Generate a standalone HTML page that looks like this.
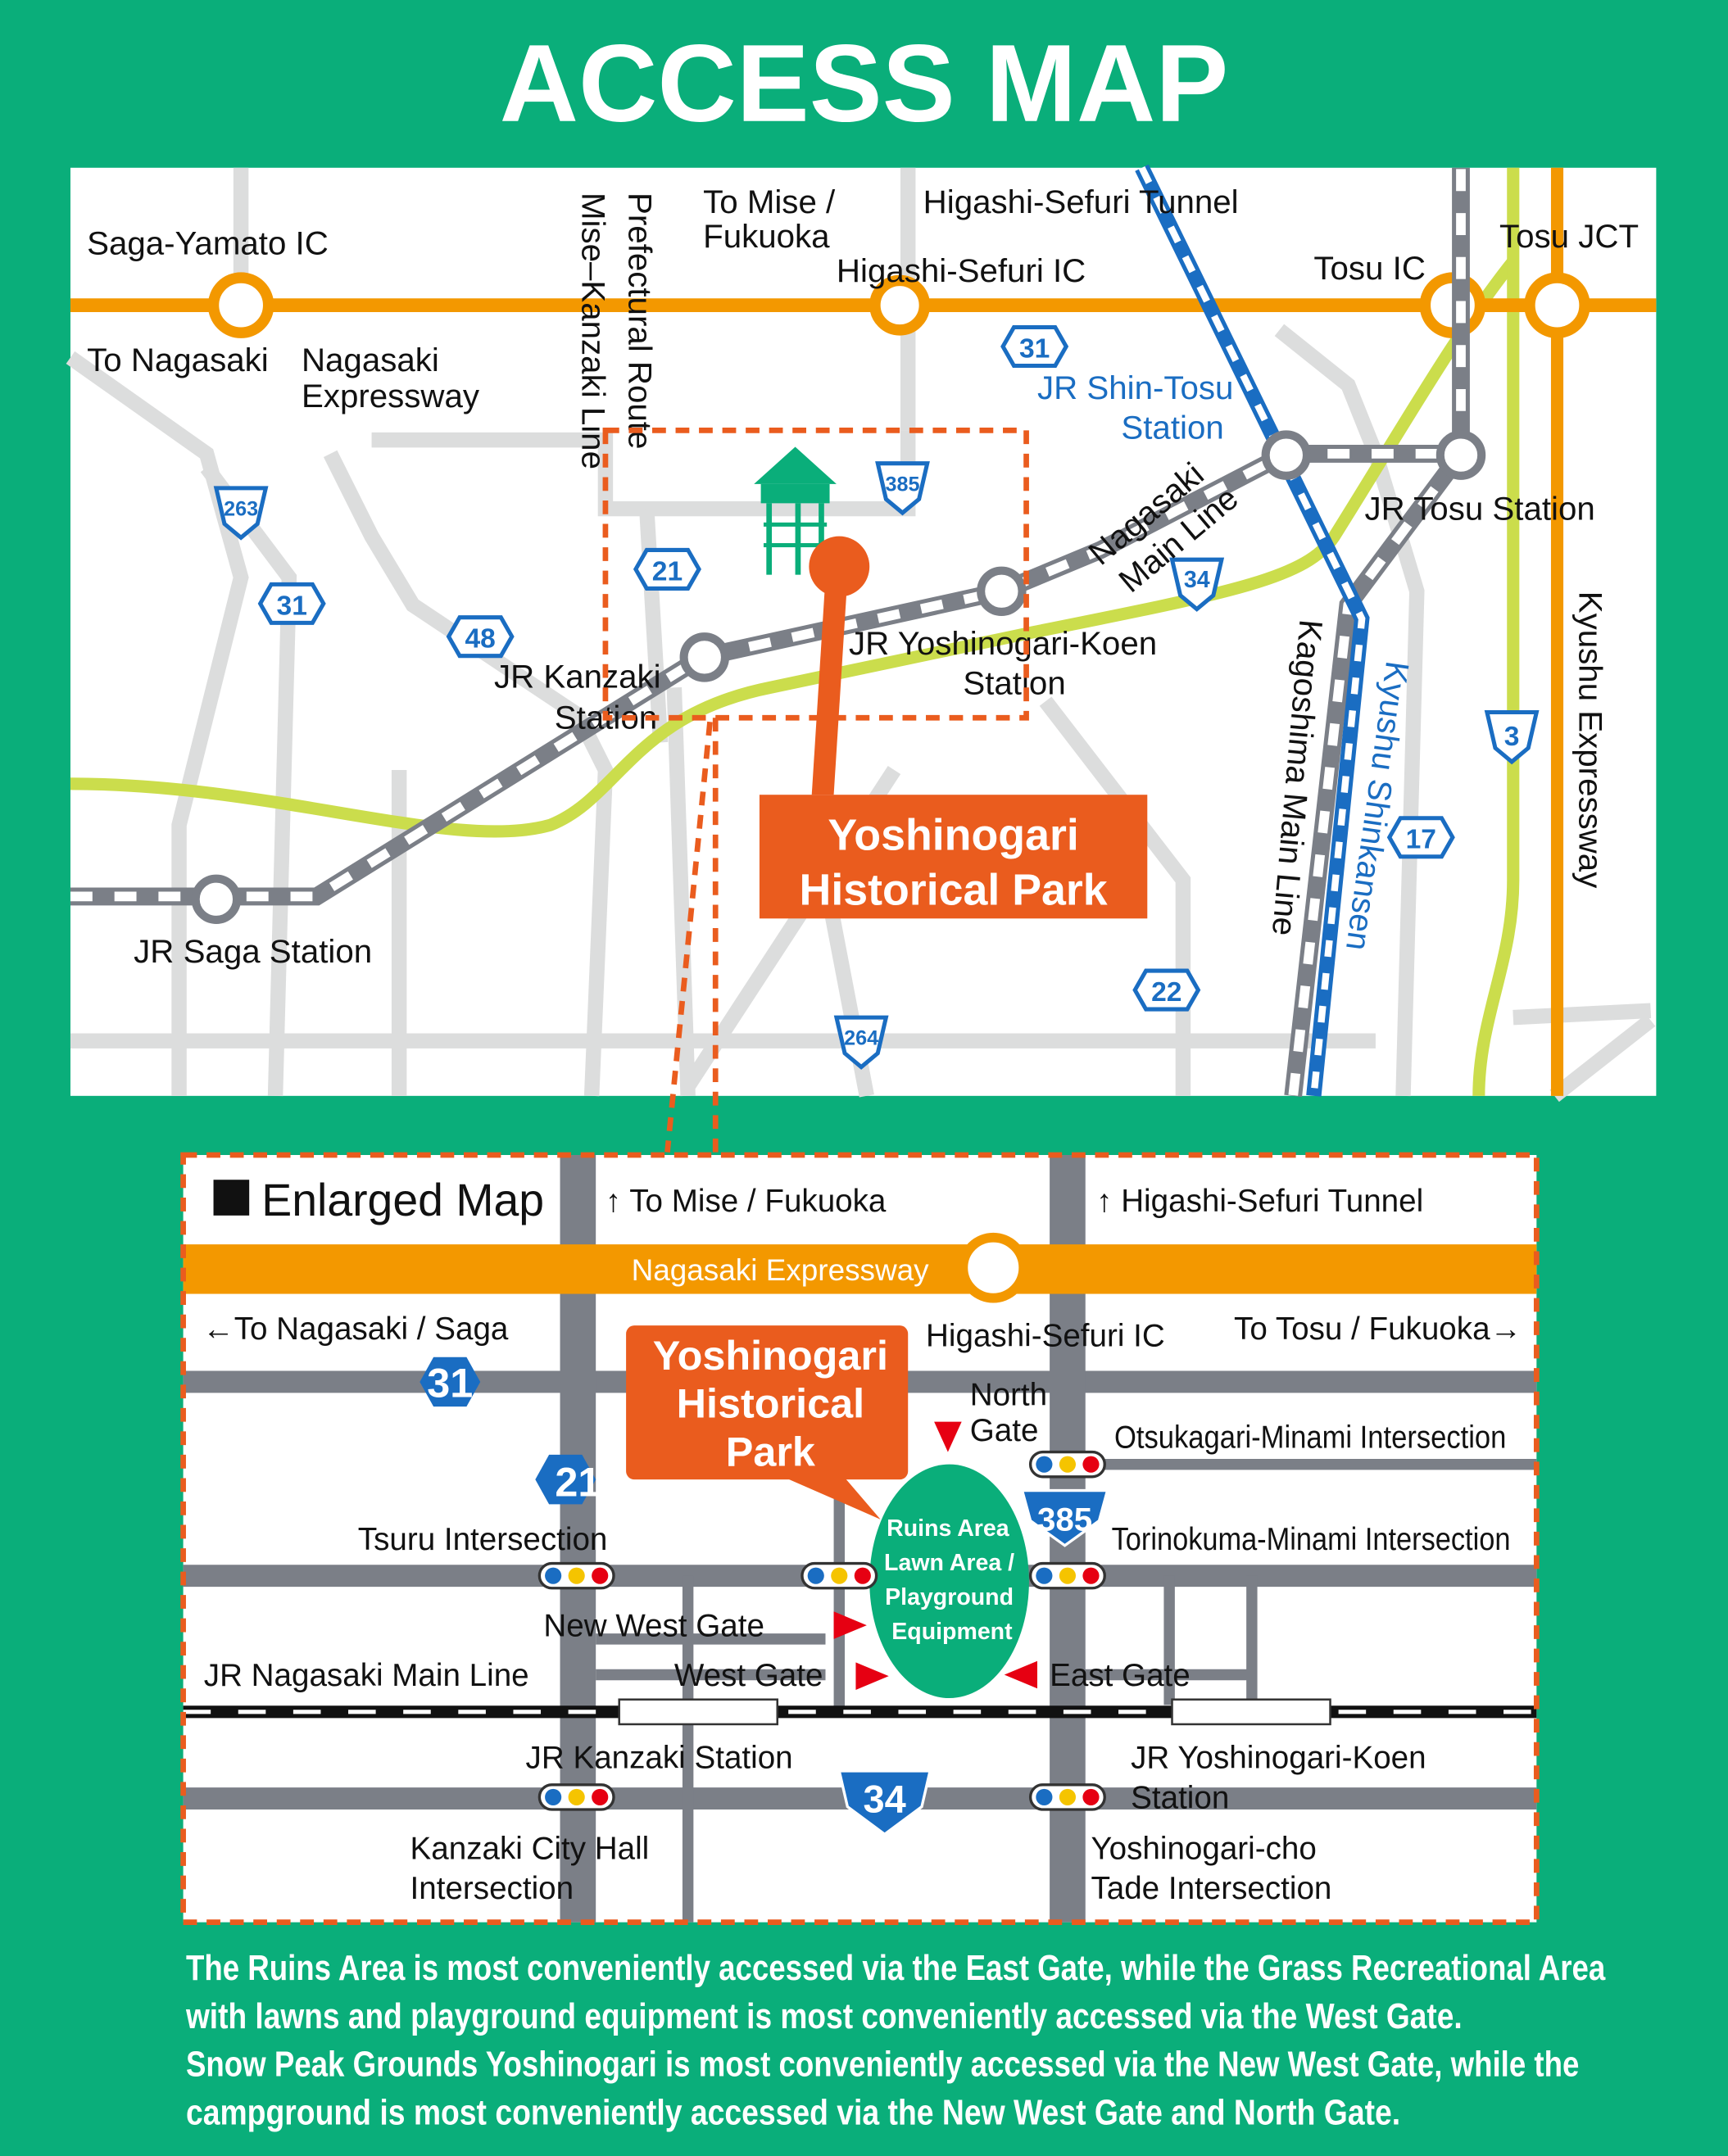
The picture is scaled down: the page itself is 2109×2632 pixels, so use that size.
<!DOCTYPE html>
<html><head><meta charset="utf-8"><style>
html,body{margin:0;padding:0;background:#0aae7a;}
svg{display:block;}
text{font-family:"Liberation Sans",sans-serif;}
</style></head><body>
<svg width="2109" height="2632" viewBox="0 0 1256 1568" xmlns="http://www.w3.org/2000/svg">
<rect width="1256" height="1568" fill="#0aae7a"/>
<text x="628" y="88" font-size="80" font-weight="bold" fill="#fff" text-anchor="middle" textLength="530" lengthAdjust="spacingAndGlyphs">ACCESS MAP</text>

<!-- upper map -->
<rect x="51" y="122" width="1153" height="675" fill="#fff"/>
<g stroke="#dcdddd" stroke-width="11" fill="none">
<path d="M175 122V240"/><path d="M51 260L150 330L175 420L130 600L130 797"/>
<path d="M240 330L270 390L300 440L420 520L440 560L430 797"/>
<path d="M270 320H440V370H660V313"/><path d="M150 340L210 420L200 797"/>
<path d="M490 500L500 797"/><path d="M500 790L650 560"/>
<path d="M660 122V313"/><path d="M51 757H1000"/>
<path d="M470 370L480 540"/>
<path d="M760 510L860 640L860 797"/>
<path d="M930 240L980 280L1000 330L1030 430L1020 797"/>
<path d="M1100 740L1200 735"/><path d="M1130 797L1200 742"/>
<path d="M290 560L290 797"/>
<path d="M600 640L630 797"/>
</g>
<!-- green lines -->
<g stroke="#cbdd4c" stroke-width="9" fill="none">
<path d="M51 570C200 570 330 620 400 600C450 580 460 520 560 500L750 460C900 430 950 420 970 390C1020 310 1060 240 1100 190"/>
<path d="M1100 122V640C1100 700 1075 740 1075 797"/>
</g>
<!-- orange expressway -->
<path d="M51 222H1204" stroke="#f39800" stroke-width="10"/>
<path d="M1132 122V797" stroke="#f39800" stroke-width="9"/>
<g fill="#fff" stroke="#f39800" stroke-width="8">
<circle cx="175" cy="222" r="20"/><circle cx="654" cy="222" r="18"/><circle cx="1056" cy="222" r="20"/><circle cx="1132" cy="222" r="20"/>
</g>
<!-- rail -->
<g fill="none">
<path d="M51 652H230L330 590L510 478L728 430L800 400L935 330H1062V122M1062 330L980 440L940 797" stroke="#7b7f87" stroke-width="13"/>
<path d="M51 652H230L330 590L510 478L728 430L800 400L935 330H1062V122M1062 330L980 440L940 797" stroke="#fff" stroke-width="7" stroke-dasharray="16 16"/>
<path d="M830 122L990 450L955 797" stroke="#1a6dc2" stroke-width="11"/>
<path d="M830 122L990 450L955 797" stroke="#fff" stroke-width="5" stroke-dasharray="12 12"/>
</g>
<g fill="#fff" stroke="#7b7f87" stroke-width="6">
<circle cx="157" cy="654" r="15"/><circle cx="512" cy="478" r="15"/><circle cx="728" cy="430" r="15"/><circle cx="935" cy="331" r="15"/><circle cx="1062" cy="331" r="15"/>
</g>
<!-- route shields -->
<g font-size="20" font-weight="bold" fill="#1a6dc2" text-anchor="middle" stroke="none">
<g fill="#fff" stroke="#1a6dc2" stroke-width="3">
<path d="M737 238h30l8 14l-8 14h-30l-8-14z"/><path d="M470 400h30l8 14l-8 14h-30l-8-14z"/><path d="M197 425h30l8 14l-8 14h-30l-8-14z"/><path d="M334 449h30l8 14l-8 14h-30l-8-14z"/><path d="M1018 595h30l8 14l-8 14h-30l-8-14z"/><path d="M833 706h30l8 14l-8 14h-30l-8-14z"/>
<path d="M157 355h36l-6 26l-12 10l-12-10z"/><path d="M638 337h36l-6 26l-12 10l-12-10z"/><path d="M852 407h36l-6 26l-12 10l-12-10z"/><path d="M608 740h36l-6 26l-12 10l-12-10z"/><path d="M1081 518h36l-6 26l-12 10l-12-10z"/>
</g>
<text x="752" y="260">31</text><text x="485" y="422">21</text><text x="212" y="447">31</text><text x="349" y="471">48</text><text x="1033" y="617">17</text><text x="848" y="728">22</text>
<text x="175" y="375" font-size="15">263</text><text x="656" y="357" font-size="15">385</text><text x="870" y="427" font-size="17">34</text><text x="626" y="760" font-size="15">264</text><text x="1099" y="542">3</text>
</g>
<!-- labels upper -->
<g font-size="24" fill="#111">
<text x="63" y="185">Saga-Yamato IC</text>
<text x="63" y="270">To Nagasaki</text>
<text x="219" y="270">Nagasaki</text><text x="219" y="296">Expressway</text>
<text x="511" y="155">To Mise /</text><text x="511" y="180">Fukuoka</text>
<text x="671" y="155">Higashi-Sefuri Tunnel</text>
<text x="608" y="205">Higashi-Sefuri IC</text>
<text x="955" y="203">Tosu IC</text><text x="1090" y="180">Tosu JCT</text>
<text x="992" y="378">JR Tosu Station</text>
<text x="359" y="500">JR Kanzaki</text><text x="403" y="530">Station</text>
<text x="617" y="476">JR Yoshinogari-Koen</text><text x="700" y="505">Station</text>
<text x="97" y="700">JR Saga Station</text>
<text x="754" y="290" fill="#1a6dc2">JR Shin-Tosu</text><text x="815" y="319" fill="#1a6dc2">Station</text>
<text transform="translate(457,140) rotate(90)">Prefectural Route</text>
<text transform="translate(423,140) rotate(90)">Mise–Kanzaki Line</text>
<text transform="translate(1148,430) rotate(90)">Kyushu Expressway</text>
<text transform="translate(1008,480) rotate(98)" fill="#1a6dc2">Kyushu Shinkansen</text>
<text transform="translate(945,450) rotate(95)">Kagoshima Main Line</text>
<text transform="translate(800,412) rotate(-40)">Nagasaki</text>
<text transform="translate(822,432) rotate(-40)">Main Line</text>
</g>
<!-- dashed focus rect -->
<g fill="none" stroke="#ea5c1e" stroke-width="4" stroke-dasharray="10 7">
<rect x="440" y="313" width="306" height="209"/>
<path d="M516 525L485 838"/><path d="M520 522V838"/>
</g>
<!-- tower -->
<g fill="#0aae7a">
<path d="M548 352L578 325L608 352z"/><rect x="553" y="352" width="50" height="14"/>
<rect x="557" y="366" width="4" height="52"/><rect x="578" y="366" width="4" height="52"/><rect x="595" y="366" width="4" height="52"/>
<rect x="555" y="380" width="46" height="3"/><rect x="555" y="395" width="46" height="3"/>
</g>
<path d="M600 420L616 420L606 578L590 578z" fill="#ea5c1e"/>
<circle cx="610" cy="412" r="22" fill="#ea5c1e"/>
<rect x="552" y="578" width="282" height="90" fill="#ea5c1e"/>
<text x="693" y="618" font-size="32" font-weight="bold" fill="#fff" text-anchor="middle">Yoshinogari</text>
<text x="693" y="658" font-size="32" font-weight="bold" fill="#fff" text-anchor="middle">Historical Park</text>

<!-- lower map -->
<rect x="133" y="840" width="984" height="558" fill="#fff"/>
<g stroke="#7b7f87" fill="none">
<path d="M133 1005H1117M133 1146H1117M133 1308H1117" stroke-width="16"/>
<path d="M420 840V1398M776 840V1398" stroke-width="26"/>
<path d="M610 1005V1146M500 1146V1398M790 1065H1117M433 1218H600M433 1192H600M850 1146V1240M910 1146V1240M776 1218H910" stroke-width="8"/>
<path d="M610 1146V1245" stroke-width="8"/>
</g>
<rect x="133" y="905" width="984" height="36" fill="#f39800"/>
<circle cx="722" cy="922" r="22" fill="#fff" stroke="#f39800" stroke-width="7"/>
<text x="567" y="931" font-size="22" fill="#fff" text-anchor="middle">Nagasaki Expressway</text>
<path d="M133 1245H1117" stroke="#111" stroke-width="9"/>
<path d="M133 1245H1117" stroke="#fff" stroke-width="3" stroke-dasharray="20 20"/>
<rect x="450" y="1236" width="115" height="18" fill="#fff" stroke="#333" stroke-width="1.5"/>
<rect x="852" y="1236" width="115" height="18" fill="#fff" stroke="#333" stroke-width="1.5"/>
<rect x="133" y="840" width="984" height="558" fill="none" stroke="#ea5c1e" stroke-width="4" stroke-dasharray="10 7"/>
<!-- park ellipse -->
<ellipse cx="690" cy="1150" rx="58" ry="85" fill="#0aae7a"/>
<g font-size="17" font-weight="bold" fill="#fff" text-anchor="middle">
<text x="689" y="1117">Ruins Area</text><text x="690" y="1142">Lawn Area /</text><text x="690" y="1167">Playground</text><text x="692" y="1192">Equipment</text>
</g>
<!-- callout -->
<path d="M560 1070L640 1105L610 1070z" fill="#ea5c1e"/>
<rect x="455" y="964" width="205" height="112" rx="6" fill="#ea5c1e"/>
<g font-size="30" font-weight="bold" fill="#fff" text-anchor="middle">
<text x="560" y="996">Yoshinogari</text><text x="560" y="1031">Historical</text><text x="560" y="1066">Park</text>
</g>
<!-- shields lower -->
<path d="M305 1005l10-18h24l10 18l-10 18h-24z" fill="#1a6dc2"/>
<text x="327" y="1016" font-size="30" font-weight="bold" fill="#fff" text-anchor="middle">31</text>
<path d="M389 1076l10-18h24l10 18l-10 18h-24z" fill="#1a6dc2"/>
<text x="420" y="1088" font-size="30" font-weight="bold" fill="#fff" text-anchor="middle">21</text>
<path d="M610 1288h66l-6 26l-27 20l-27-20z" fill="#1a6dc2" stroke="#fff" stroke-width="2"/>
<text x="643" y="1318" font-size="28" font-weight="bold" fill="#fff" text-anchor="middle">34</text>
<path d="M743 1084h62l-6 22l-25 18l-25-18z" fill="#1a6dc2" stroke="#fff" stroke-width="2"/>
<text x="774" y="1113" font-size="24" font-weight="bold" fill="#fff" text-anchor="middle">385</text>
<!-- traffic lights -->
<g>
<g transform="translate(392,1137)"><rect width="54" height="18" rx="9" fill="#fff" stroke="#333" stroke-width="2"/><circle cx="10" cy="9" r="6" fill="#1a6dc2"/><circle cx="27" cy="9" r="6" fill="#f5c400"/><circle cx="44" cy="9" r="6" fill="#e60012"/></g>
<g transform="translate(583,1137)"><rect width="54" height="18" rx="9" fill="#fff" stroke="#333" stroke-width="2"/><circle cx="10" cy="9" r="6" fill="#1a6dc2"/><circle cx="27" cy="9" r="6" fill="#f5c400"/><circle cx="44" cy="9" r="6" fill="#e60012"/></g>
<g transform="translate(749,1137)"><rect width="54" height="18" rx="9" fill="#fff" stroke="#333" stroke-width="2"/><circle cx="10" cy="9" r="6" fill="#1a6dc2"/><circle cx="27" cy="9" r="6" fill="#f5c400"/><circle cx="44" cy="9" r="6" fill="#e60012"/></g>
<g transform="translate(749,1056)"><rect width="54" height="18" rx="9" fill="#fff" stroke="#333" stroke-width="2"/><circle cx="10" cy="9" r="6" fill="#1a6dc2"/><circle cx="27" cy="9" r="6" fill="#f5c400"/><circle cx="44" cy="9" r="6" fill="#e60012"/></g>
<g transform="translate(392,1298)"><rect width="54" height="18" rx="9" fill="#fff" stroke="#333" stroke-width="2"/><circle cx="10" cy="9" r="6" fill="#1a6dc2"/><circle cx="27" cy="9" r="6" fill="#f5c400"/><circle cx="44" cy="9" r="6" fill="#e60012"/></g>
<g transform="translate(749,1298)"><rect width="54" height="18" rx="9" fill="#fff" stroke="#333" stroke-width="2"/><circle cx="10" cy="9" r="6" fill="#1a6dc2"/><circle cx="27" cy="9" r="6" fill="#f5c400"/><circle cx="44" cy="9" r="6" fill="#e60012"/></g>
</g>
<!-- gate arrows -->
<g fill="#e60012">
<path d="M679 1034h20l-10 22z"/><path d="M606 1172l24 10l-24 10z"/><path d="M622 1209l24 10l-24 10z"/><path d="M754 1208v20l-24-10z"/>
</g>
<!-- lower labels -->
<rect x="155" y="858" width="26" height="26" fill="#111"/>
<text x="190" y="884" font-size="33" fill="#111">Enlarged Map</text>
<g font-size="23" fill="#111">
<text x="440" y="881">↑ To Mise / Fukuoka</text>
<text x="797" y="881">↑ Higashi-Sefuri Tunnel</text>
<text x="147" y="974">←To Nagasaki / Saga</text>
<text x="673" y="979">Higashi-Sefuri IC</text>
<text x="897" y="974">To Tosu / Fukuoka→</text>
<text x="705" y="1022">North</text><text x="705" y="1048">Gate</text>
<text x="810" y="1053" textLength="285" lengthAdjust="spacingAndGlyphs">Otsukagari-Minami Intersection</text>
<text x="260" y="1127">Tsuru Intersection</text>
<text x="808" y="1127" textLength="290" lengthAdjust="spacingAndGlyphs">Torinokuma-Minami Intersection</text>
<text x="395" y="1190">New West Gate</text>
<text x="148" y="1226">JR Nagasaki Main Line</text>
<text x="490" y="1226">West Gate</text>
<text x="763" y="1226">East Gate</text>
<text x="382" y="1286">JR Kanzaki Station</text>
<text x="822" y="1286">JR Yoshinogari-Koen</text><text x="822" y="1315">Station</text>
<text x="298" y="1352">Kanzaki City Hall</text><text x="298" y="1381">Intersection</text>
<text x="793" y="1352">Yoshinogari-cho</text><text x="793" y="1381">Tade Intersection</text>
</g>
<!-- bottom text -->
<g font-size="26" font-weight="bold" fill="#fff">
<text x="135" y="1440" textLength="1032" lengthAdjust="spacingAndGlyphs">The Ruins Area is most conveniently accessed via the East Gate, while the Grass Recreational Area</text>
<text x="135" y="1475" textLength="928" lengthAdjust="spacingAndGlyphs">with lawns and playground equipment is most conveniently accessed via the West Gate.</text>
<text x="135" y="1510" textLength="1013" lengthAdjust="spacingAndGlyphs">Snow Peak Grounds Yoshinogari is most conveniently accessed via the New West Gate, while the</text>
<text x="135" y="1545" textLength="883" lengthAdjust="spacingAndGlyphs">campground is most conveniently accessed via the New West Gate and North Gate.</text>
</g>
</svg>
</body></html>
